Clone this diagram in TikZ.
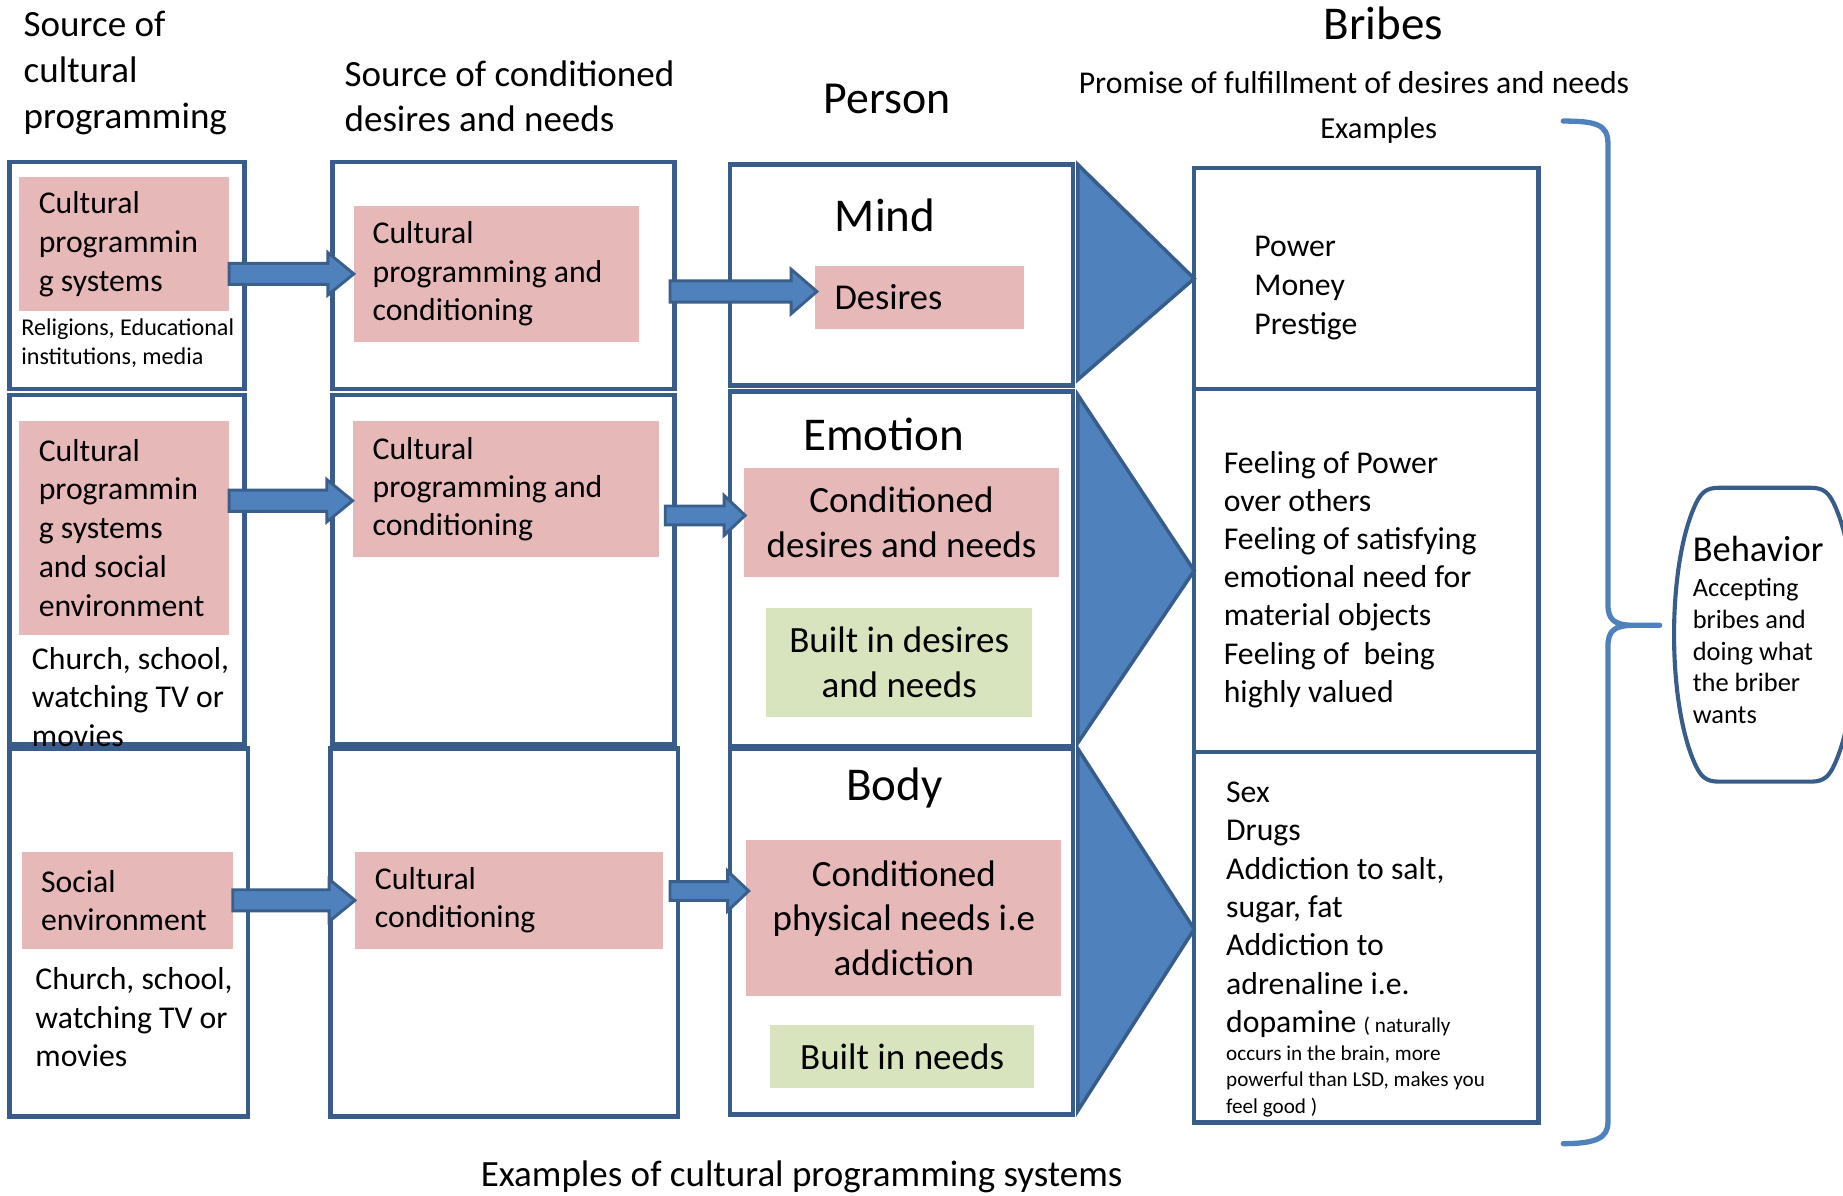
\documentclass[tikz,border=0pt]{standalone}
\usepackage{fontspec}
\setmainfont{Carlito}
\usetikzlibrary{calc}
\definecolor{boxline}{HTML}{385D8A}
\definecolor{arrfill}{HTML}{4F81BD}
\definecolor{arrline}{HTML}{3A5F8B}
\definecolor{bracec}{HTML}{4F81BD}
\definecolor{pinkc}{HTML}{E6B9B8}
\definecolor{greenc}{HTML}{D7E4BD}
\newcommand\fsz[2]{\fontsize{#1}{#2}\selectfont}
\newcommand\barrow[5]{%
  \filldraw[arrst] let \p1=(#1), \p2=(#2) in
    (\x1,\y2+#3pt) -- (\x2-#5pt,\y2+#3pt) -- (\x2-#5pt,\y2+#4pt) -- (\x2,\y2)
    -- (\x2-#5pt,\y2-#4pt) -- (\x2-#5pt,\y2-#3pt) -- (\x1,\y2-#3pt) -- cycle;}
\begin{document}
\begin{tikzpicture}[x=1pt,y=-1pt,
  boxst/.style={draw=boxline, line width=3.8pt, inner sep=0pt, outer sep=0pt, anchor=north west},
  pinkst/.style={fill=pinkc, inner ysep=0pt, outer sep=0pt, anchor=north west, align=flush left},
  greenst/.style={fill=greenc, inner ysep=0pt, outer sep=0pt, anchor=north west, align=flush center},
  txt/.style={inner sep=0pt, align=left, font=\fsz{27}{33}},
  arrst/.style={fill=arrfill, draw=arrline, line width=2.5pt, line join=miter},
  trist/.style={fill=arrfill, draw=boxline, line width=3pt},
  bracest/.style={draw=bracec, line width=4.5pt, line cap=round, line join=round},
  behst/.style={draw=boxline, line width=3.5pt, line join=round}]
\useasboundingbox (0,0) rectangle (1568,1016.7);
\clip (0,0) rectangle (1568,1016.7);
\fill[white] (0,0) rectangle (1568,1016.7);

% titles
\node[txt, font=\fsz{31.5}{39}, anchor=west] (t1) at (20,62) {Source of\\cultural\\programming};
\node[txt, font=\fsz{31.5}{38}, anchor=west] (t2) at (293,82) {Source of conditioned\\desires and needs};
\node[txt, font=\fsz{39}{47}] (person) at (755,84) {Person};
\node[txt, font=\fsz{40}{48}] (bribes) at (1177,20) {Bribes};
\node[txt, font=\fsz{27}{33}] (promise) at (1152,70) {Promise of fulfillment of desires and needs};
\node[txt, font=\fsz{26}{32}] (exlab) at (1173,111) {Examples};
\node[txt, font=\fsz{31.5}{38}] (bottom) at (682,1001) {Examples of cultural programming systems};

% boxes column 1
\node[boxst, minimum width=200pt, minimum height=193pt] (c1a) at (8,138) {};
\node[boxst, minimum width=200pt, minimum height=297pt] (c1b) at (8,336) {};
\node[boxst, minimum width=203pt, minimum height=313pt] (c1c) at (8,637) {};
% column 2
\node[boxst, minimum width=291pt, minimum height=193pt] (c2a) at (283,138) {};
\node[boxst, minimum width=291pt, minimum height=297pt] (c2b) at (283,336) {};
\node[boxst, minimum width=296pt, minimum height=313pt] (c2c) at (281,637) {};
% column 3
\node[boxst, minimum width=292pt, minimum height=188pt] (mind) at (621,140) {};
\node[boxst, minimum width=292pt, minimum height=302pt] (emo) at (621,333) {};
\node[boxst, minimum width=292pt, minimum height=311pt] (body) at (621,637) {};
% column 4
\node[boxst, minimum width=293pt, minimum height=188pt] (r1) at (1016,143) {};
\node[boxst, minimum width=293pt, minimum height=309pt] (r2) at (1016,331) {};
\node[boxst, minimum width=293pt, minimum height=315pt] (r3) at (1016,640) {};

% pink / green boxes
\node[pinkst, text width=145pt, inner xsep=17pt, minimum height=114pt, font=\fsz{27}{33}] (p11) at (16,151) {Cultural\\programmin\\g systems};
\node[pinkst, text width=145pt, inner xsep=17pt, minimum height=182pt, font=\fsz{27}{33}] (p12) at (16,358) {Cultural\\programmin\\g systems\\and social\\environment};
\node[pinkst, text width=147pt, inner xsep=16pt, minimum height=82pt, font=\fsz{27}{32}] (p13) at (19,725) {Social\\environment};
\node[pinkst, text width=211pt, inner xsep=16pt, minimum height=116pt, font=\fsz{27}{32.5}] (p21) at (301,175) {Cultural\\programming and\\conditioning};
\node[pinkst, text width=227pt, inner xsep=17pt, minimum height=116pt, font=\fsz{27}{32.5}] (p22) at (300,358) {Cultural\\programming and\\conditioning};
\node[pinkst, text width=228pt, inner xsep=17pt, minimum height=82pt, font=\fsz{27}{32}] (p23) at (302,725) {Cultural\\conditioning};
\node[pinkst, text width=144pt, inner xsep=17pt, minimum height=54pt, font=\fsz{31}{38}] (des) at (693,226) {Desires};
\node[pinkst, align=flush center, text width=248pt, inner xsep=10pt, minimum height=93pt, font=\fsz{31.5}{38}] (ep) at (633,398) {Conditioned\\desires and needs};
\node[greenst, text width=206pt, inner xsep=10pt, minimum height=93pt, font=\fsz{31.5}{38}] (eg) at (652,517) {Built in desires\\and needs};
\node[pinkst, align=flush center, text width=248pt, inner xsep=10pt, minimum height=132pt, font=\fsz{31.5}{38}] (bp) at (635,715) {Conditioned\\physical needs i.e\\addiction};
\node[greenst, text width=205pt, inner xsep=10pt, minimum height=54pt, font=\fsz{31.5}{38}] (bg) at (655,872) {Built in needs};

% texts in boxes
\node[txt, font=\fsz{20.5}{24}, anchor=west] (rel) at (18,292) {Religions, Educational\\institutions, media};
\node[txt, anchor=west] (ch1) at (27,593) {Church, school,\\watching TV or\\movies};
\node[txt, anchor=west] (ch2) at (30,865.5) {Church, school,\\watching TV or\\movies};
\node[txt, font=\fsz{40}{48}] (mindt) at (753,183) {Mind};
\node[txt, font=\fsz{40}{48}] (emot) at (752,370) {Emotion};
\node[txt, font=\fsz{40}{48}] (bodyt) at (761,670) {Body};
\node[txt, anchor=west] (pmp) at (1067,245) {Power\\Money\\Prestige};
\node[txt, font=\fsz{27}{32.5}, anchor=west] (feel) at (1041,493) {Feeling of Power\\over others\\Feeling of satisfying\\emotional need for\\material objects\\Feeling of \ being\\highly valued};
\node[txt, font=\fsz{27}{32.7}, anchor=west] (sex) at (1043,774) {Sex\\Drugs\\Addiction to salt,\\sugar, fat\\Addiction to\\adrenaline i.e.\\dopamine {\fsz{18}{22}( naturally}};
\node[txt, font=\fsz{18}{22.5}, anchor=west] (dop) at (1043,920) {occurs in the brain, more\\powerful than LSD, makes you\\feel good )};

% triangles
\filldraw[trist] ($(mind.north east)+(4,0)$) -- (r1.west) -- ($(mind.south east)+(4,-5)$) -- cycle;
\filldraw[trist] ($(emo.north east)+(4,3)$) -- (r2.west) -- ($(emo.south east)+(4,-3)$) -- cycle;
\filldraw[trist] ($(body.north east)+(4,0)$) -- ($(r3.west)+(0,-7)$) -- ($(body.south east)+(4,-3)$) -- cycle;

% block arrows
\coordinate (a2e) at ($(p22.west)+(0,10)$);
\coordinate (a4e) at ($(des.west)+(2,-5)$);
\coordinate (a4s) at ($(c2a.east |- a4e)+(-4,0)$);
\coordinate (a5e) at ($(ep.west)+(1,-6)$);
\coordinate (a5s) at ($(c2b.east |- a5e)+(-8,0)$);
\coordinate (a6e) at ($(bp.west)+(2,-23)$);
\coordinate (a6s) at ($(c2c.east |- a6e)+(-7,0)$);
\barrow{p11.east |- p21.west}{p21.west}{9}{18}{22}
\barrow{p12.east |- a2e}{a2e}{9}{18}{22}
\barrow{p13.east |- p23.west}{p23.west}{9}{18}{22}
\barrow{a4s}{a4e}{9}{19}{22}
\barrow{a5s}{a5e}{8}{17}{18}
\barrow{a6s}{a6e}{8}{17}{18}

% brace
\draw[bracest] (1330,103) .. controls (1358,103) and (1368,106) .. (1368,122) -- (1368,514)
  .. controls (1368,527) and (1373,532) .. (1390,532) -- (1412,532) -- (1390,532)
  .. controls (1373,532) and (1368,537) .. (1368,550) -- (1368,955)
  .. controls (1368,968) and (1358,973) .. (1330,973);

% behavior
\draw[behst] (1462,415) -- (1541,415)
  .. controls (1552,415) and (1556,420) .. (1560,428)
  .. controls (1585,480) and (1585,600) .. (1560,652)
  .. controls (1556,660) and (1552,665) .. (1541,665)
  -- (1462,665)
  .. controls (1451,665) and (1447,660) .. (1443,652)
  .. controls (1418,600) and (1418,480) .. (1443,428)
  .. controls (1447,420) and (1451,415) .. (1462,415) -- cycle;
\node[txt, font=\fsz{31}{38}, anchor=west] (behlab) at (1440,467) {Behavior};
\node[txt, font=\fsz{22.5}{27}, anchor=west] (behtxt) at (1440,554) {Accepting\\bribes and\\doing what\\the briber\\wants};
\end{tikzpicture}
\end{document}
